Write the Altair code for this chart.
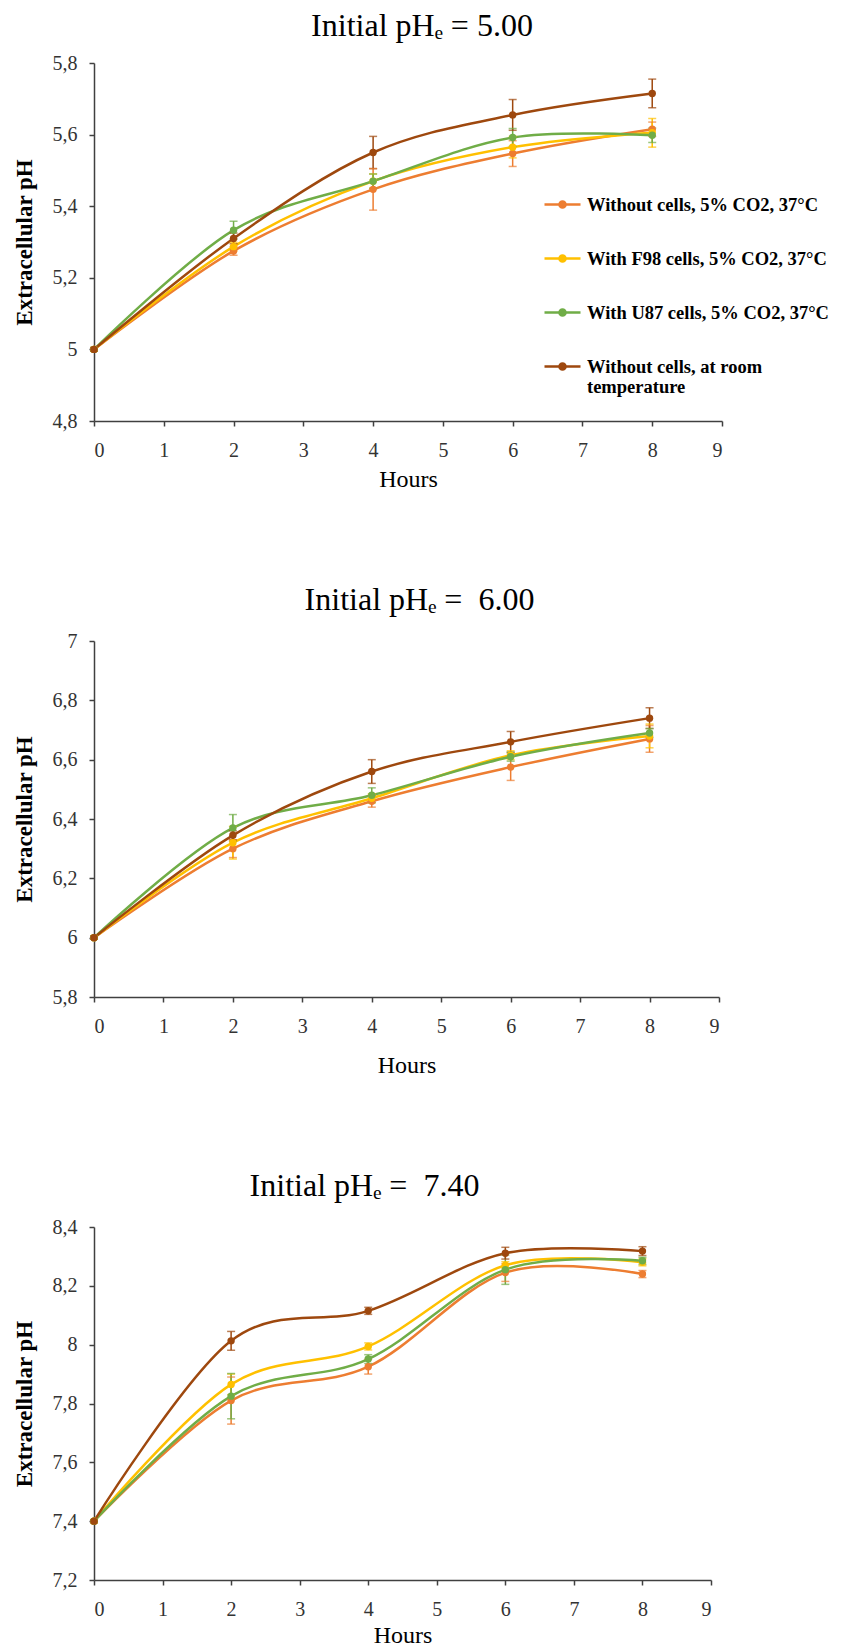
import altair as alt
import pandas as pd

# ---------------- data ----------------
hours = [0, 2, 4, 6, 8]
series = [
    "Without cells, 5% CO2, 37°C",
    "With F98 cells, 5% CO2, 37°C",
    "With U87 cells, 5% CO2, 37°C",
    "Without cells, at room temperature",
]
colors = ["#ED7D31", "#FFC000", "#70AD47", "#9E480E"]

# Initial pHe = 5.00
ph5_no_cells = [5.00, 5.275, 5.447, 5.547, 5.615]
ph5_f98 = [5.00, 5.287, 5.470, 5.565, 5.605]
ph5_u87 = [5.00, 5.333, 5.470, 5.592, 5.598]
ph5_room = [5.00, 5.310, 5.550, 5.655, 5.715]
ph5_no_cells_err = [0.005, 0.012, 0.058, 0.036, 0.020]
ph5_f98_err = [0.005, 0.012, 0.020, 0.030, 0.040]
ph5_u87_err = [0.005, 0.025, 0.020, 0.025, 0.020]
ph5_room_err = [0.005, 0.015, 0.045, 0.043, 0.040]

# Initial pHe = 6.00
ph6_no_cells = [6.00, 6.300, 6.460, 6.575, 6.670]
ph6_f98 = [6.00, 6.320, 6.470, 6.615, 6.680]
ph6_u87 = [6.00, 6.370, 6.480, 6.610, 6.690]
ph6_room = [6.00, 6.345, 6.560, 6.660, 6.740]
ph6_no_cells_err = [0.005, 0.030, 0.020, 0.045, 0.045]
ph6_f98_err = [0.005, 0.055, 0.015, 0.015, 0.040]
ph6_u87_err = [0.005, 0.045, 0.025, 0.015, 0.015]
ph6_room_err = [0.005, 0.015, 0.040, 0.035, 0.035]

# Initial pHe = 7.40
ph74_no_cells = [7.40, 7.810, 7.925, 8.245, 8.240]
ph74_f98 = [7.40, 7.865, 7.994, 8.270, 8.280]
ph74_u87 = [7.40, 7.825, 7.951, 8.255, 8.285]
ph74_room = [7.40, 8.013, 8.115, 8.311, 8.318]
ph74_no_cells_err = [0.005, 0.080, 0.025, 0.030, 0.012]
ph74_f98_err = [0.005, 0.035, 0.012, 0.012, 0.012]
ph74_u87_err = [0.005, 0.077, 0.015, 0.050, 0.012]
ph74_room_err = [0.005, 0.032, 0.012, 0.020, 0.015]

FONT = "Liberation Serif"
AXIS_COLOR = "#404040"

LEGEND_SYMBOL = (
    "M-1,0H1"
    "M-0.05,0a0.05,0.05 0 1,0 0.1,0a0.05,0.05 0 1,0 -0.1,0"
    "M-0.12,0a0.12,0.12 0 1,0 0.24,0a0.12,0.12 0 1,0 -0.24,0"
    "M-0.17,0a0.17,0.17 0 1,0 0.34,0a0.17,0.17 0 1,0 -0.34,0"
)


def build_df(vals, errs):
    rows = []
    for name, v, e in zip(series, vals, errs):
        for h, p, d in zip(hours, v, e):
            rows.append({"series": name, "hours": h, "ph": p, "lo": p - d, "hi": p + d})
    return pd.DataFrame(rows)


def panel(vals, errs, ymin, ymax, yvals, title, w, h, dx, toff, hours_pad, show_legend):
    df = build_df(vals, errs)
    if show_legend:
        legend = alt.Legend(
            title=None, orient="none", legendX=449, legendY=122, padding=0,
            symbolType=LEGEND_SYMBOL, symbolSize=1296, symbolStrokeWidth=2.5,
            symbolOpacity=1,
            labelFont=FONT, labelFontSize=18.5, labelFontWeight="bold",
            labelColor="black", labelLimit=400, labelOffset=5, rowPadding=25,
            labelExpr="datum.label == 'Without cells, at room temperature' ? "
                      "['Without cells, at room', 'temperature'] : datum.label",
        )
    else:
        legend = None
    color = alt.Color("series:N", scale=alt.Scale(domain=series, range=colors), legend=legend)
    xaxis = alt.Axis(
        values=list(range(10)), title="Hours", grid=False,
        titleFont=FONT, titleFontSize=24, titleFontWeight="normal", titleColor="black",
        labelFont=FONT, labelFontSize=20, labelColor="#333333",
        domainColor=AXIS_COLOR, domainWidth=1.5, tickColor=AXIS_COLOR, tickWidth=1.5,
        tickSize=5, labelPadding=14, titlePadding=hours_pad,
    )
    yaxis = alt.Axis(
        values=yvals, title="Extracellular pH", grid=False,
        labelExpr="replace(format(datum.value, '.1~f'), '.', ',')",
        titleFont=FONT, titleFontSize=23, titleFontWeight="bold", titleColor="black",
        labelFont=FONT, labelFontSize=20, labelColor="#333333",
        domainColor=AXIS_COLOR, domainWidth=1.5, tickColor=AXIS_COLOR, tickWidth=1.5,
        tickSize=5, labelPadding=12, titlePadding=16,
    )
    xs = alt.Scale(domain=[0, 9], nice=False)
    ys = alt.Scale(domain=[ymin, ymax], nice=False, zero=False)
    X = alt.X("hours:Q", scale=xs, axis=xaxis)
    base = alt.Chart(df)
    line = base.mark_line(interpolate="cardinal", strokeWidth=2.5).encode(
        x=X, y=alt.Y("ph:Q", scale=ys, axis=yaxis), color=color)
    bars = base.mark_rule(strokeWidth=1.5).encode(
        x=X, y=alt.Y("lo:Q", scale=ys, axis=yaxis), y2="hi:Q", color=color)
    cap_lo = base.mark_tick(orient="horizontal", size=8, thickness=1.5).encode(
        x=X, y=alt.Y("lo:Q", scale=ys, axis=yaxis), color=color)
    cap_hi = base.mark_tick(orient="horizontal", size=8, thickness=1.5).encode(
        x=X, y=alt.Y("hi:Q", scale=ys, axis=yaxis), color=color)
    pts = base.mark_point(filled=True, size=55, opacity=1).encode(
        x=X, y=alt.Y("ph:Q", scale=ys, axis=yaxis), color=color)
    return alt.layer(line, bars, cap_lo, cap_hi, pts).properties(
        width=w, height=h,
        title=alt.TitleParams(
            title, font=FONT, fontSize=32, fontWeight="normal", color="black",
            anchor="middle", frame="group", dx=dx, offset=toff,
        ),
    )


p1 = panel([ph5_no_cells, ph5_f98, ph5_u87, ph5_room],
           [ph5_no_cells_err, ph5_f98_err, ph5_u87_err, ph5_room_err],
           4.8, 5.8, [4.8, 5.0, 5.2, 5.4, 5.6, 5.8],
           "Initial pHₑ = 5.00", 628, 358, 14, 10, 7, True)
p2 = panel([ph6_no_cells, ph6_f98, ph6_u87, ph6_room],
           [ph6_no_cells_err, ph6_f98_err, ph6_u87_err, ph6_room_err],
           5.8, 7.0, [5.8, 6.0, 6.2, 6.4, 6.6, 6.8, 7.0],
           "Initial pHₑ = \u00a06.00", 625, 356, 13, 14, 17, False)
p3 = panel([ph74_no_cells, ph74_f98, ph74_u87, ph74_room],
           [ph74_no_cells_err, ph74_f98_err, ph74_u87_err, ph74_room_err],
           7.2, 8.4, [7.2, 7.4, 7.6, 7.8, 8.0, 8.2, 8.4],
           "Initial pHₑ = \u00a07.40", 617, 353, -38, 14, 4, False)

chart = alt.vconcat(p1, p2, p3, spacing=93).resolve_scale(color="independent").properties(
    padding={"left": 5, "top": 2, "right": 2, "bottom": 0}
).configure_view(stroke=None)

chart.save("out.html", embed_options={"renderer": "svg", "actions": False})
